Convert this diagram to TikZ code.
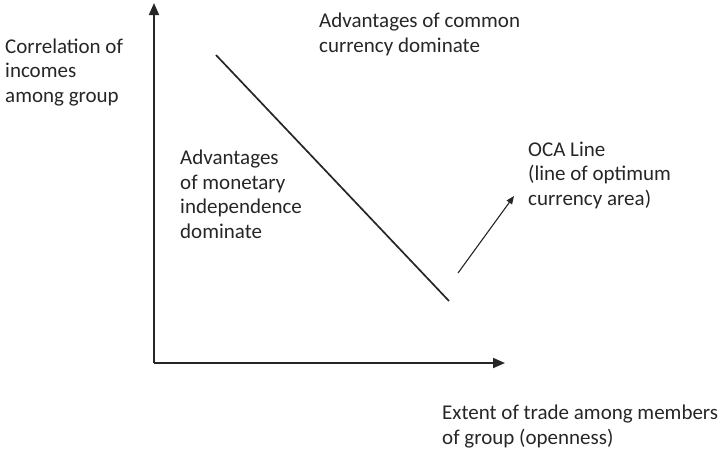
\documentclass[tikz,border=0pt]{standalone}
\usepackage{fontspec}
\setmainfont{Carlito}
\usetikzlibrary{arrows.meta}
\begin{document}
\begin{tikzpicture}[x=1pt,y=-1pt,
  axis/.style={line width=1.9pt,color=black!85,-{Triangle[length=12pt,width=10pt]}},
  oca/.style={line width=1.7pt,color=black!85},
  pointer/.style={line width=1.1pt,color=black!85,-{Triangle[length=8pt,width=6.5pt]}},
  label/.style={anchor=base west,inner sep=0pt,align=left,text=black!85,
    font=\fontsize{21}{24.5}\selectfont}]
  \useasboundingbox (0,0) rectangle (722,448);
  % axes
  \coordinate (O) at (154,363);
  \coordinate (ytop) at (154,3);
  \coordinate (xend) at (505,363);
  \draw[axis] (O) -- (ytop);
  \draw[axis] (O) -- (xend);
  % OCA line
  \coordinate (l1) at (216,55);
  \coordinate (l2) at (449,301);
  \draw[oca] (l1) -- (l2);
  % labels (placed by the baseline of their last line)
  \node[label] (ylab) at (5,102) {Correlation of\\incomes\\among group};
  \node[label] (common) at (319,52) {Advantages of common\\currency dominate};
  \node[label] (indep) at (180,238) {Advantages\\of monetary\\independence\\dominate};
  \node[label] (ocalab) at (528,205) {OCA Line\\(line of optimum\\currency area)};
  \node[label] (xlab) at (442,444) {Extent of trade among members\\of group (openness)};
  % pointer to the OCA line label
  \coordinate (p1) at (458,273);
  \coordinate (p2) at (514,196);
  \draw[pointer] (p1) -- (p2);
\end{tikzpicture}
\end{document}
